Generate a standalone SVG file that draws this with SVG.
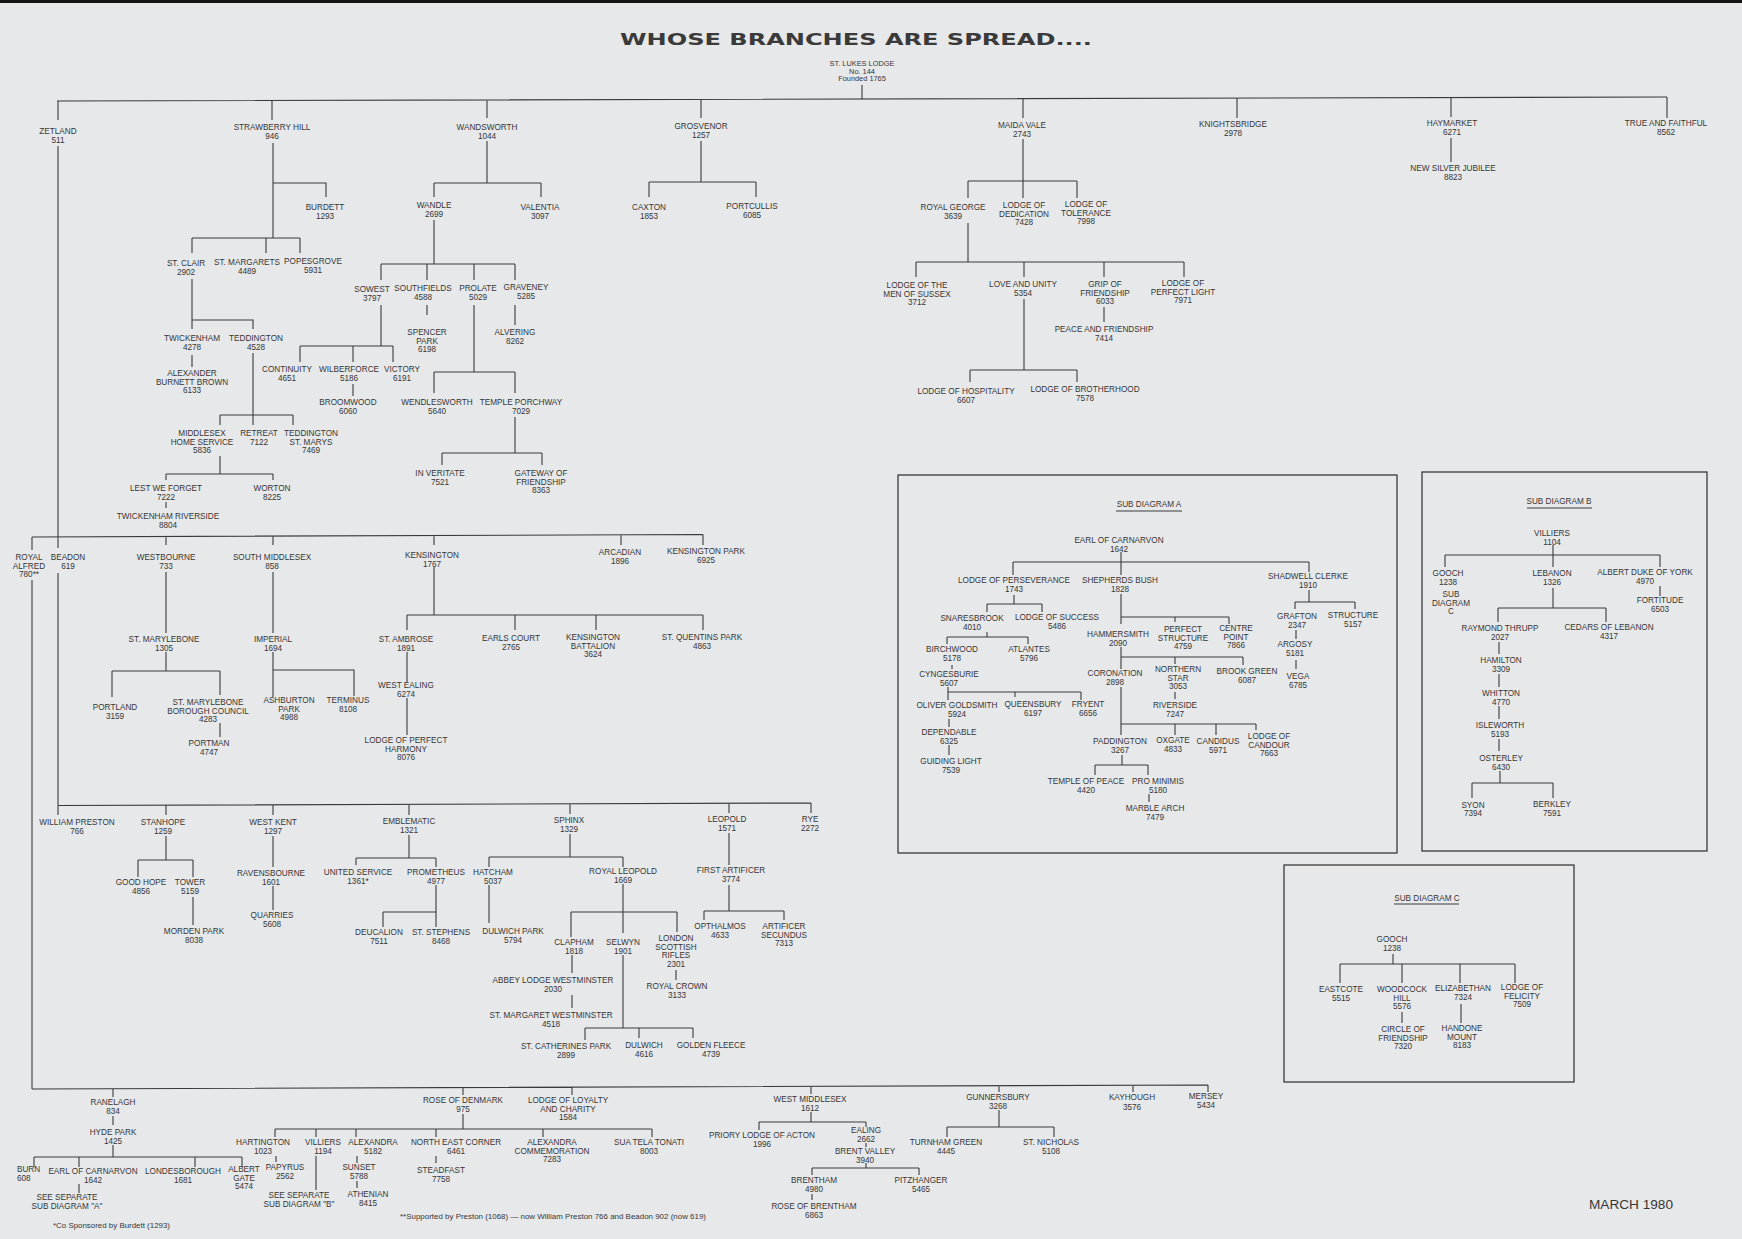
<svg xmlns="http://www.w3.org/2000/svg" width="1742" height="1239" viewBox="0 0 1742 1239">
<style>
.t{font-family:"Liberation Sans",Arial,sans-serif;font-size:8.2px;fill:#363636;text-anchor:middle}
.s{font-size:7.4px}
.c{fill:none;stroke:#3a3a3a;stroke-width:1.1}
.b{fill:none;stroke:#3a3a3a;stroke-width:1.3}
</style>
<rect x="0" y="0" width="1742" height="1239" fill="#e7e8ea"/>
<rect x="0" y="0" width="1742" height="3" fill="#151515"/>
<g id="title"><text x="620" y="45" textLength="472" lengthAdjust="spacingAndGlyphs" style="font-family:'DejaVu Sans',Verdana,sans-serif;font-weight:bold;font-size:16.5px;fill:#3a3a3a;text-anchor:start">WHOSE BRANCHES ARE SPREAD....</text></g>
<g id="connectors" class="c">
<path d="M57,101 L1667,97 M862,85 V99.5 M58,101 V120 M58,146 V548 M58,573 V805.5"/>
<path d="M272,101 V120 M273,143 V238 M273,183 H326 V197 M192,238 H300 M192,238 V253 M266,238 V253 M300,238 V253 M192,279 V329 M192,320 H253 V329 M192,355 V367 M253,353 V425 M220,415 H293 M220,415 V425 M293,415 V425 M220,456 V474 M166,474 H273 M166,474 V480 M273,474 V480 M166,502 V508"/>
<path d="M487,100.5 V118 M487,141 V183 M434,183 H541 M434,183 V197 M541,183 V197 M434,220 V264 M381,264 H515 M381,264 V280 M427,264 V280 M474,264 V280 M515,264 V280 M381,305 V346 M300,346 H393 M300,346 V362 M353,346 V362 M393,346 V362 M353,384 V396 M427,305 V315 M515,305 V325 M474,305 V372 M434,372 H515 M434,372 V393 M515,372 V393 M515,417 V453 M442,453 H542 M442,453 V465 M542,453 V465"/>
<path d="M701,100 V118 M701,141 V182 M649,182 H756 M649,182 V197 M756,182 V197"/>
<path d="M1023,98.5 V118 M1023,139 V181 M968,181 H1077 M968,181 V198 M1023,181 V198 M1077,181 V198 M968,223 V262 M916,262 H1184 M916,262 V277 M1024,262 V277 M1104,262 V277 M1184,262 V277 M1104,307 V322 M1024,299 V370 M970,370 H1077 M970,370 V382 M1077,370 V382"/>
<path d="M1237,98 V118 M1451,97.5 V117 M1451,138 V162 M1667,97 V118"/>
<path d="M32,537 L703,534.5 M32,537 V550 M32,580 V1089 M166,536.5 V545 M273,536 V545 M434,536 V545 M621,535 V545 M703,534.5 V545 M166,572 V633 M166,652 V671 M112,671 H220 M112,671 V697 M220,671 V695 M220,723 V737 M273,572 V633 M273,652 V697 M273,670 H354 V696 M434,567 V615 M407,615 H703 M407,615 V630 M515,615 V630 M596,615 V630 M703,615 V630 M407,652 V682 M407,698 V735"/>
<path d="M58,805.5 L811,803 M58,805.5 V815 M166,805 V815 M273,805 V815 M409,804.5 V815 M570,804 V814 M729,803.5 V813 M811,803 V813 M166,836 V860 M138,860 H193 M138,860 V877 M193,860 V877 M193,897 V925 M273,836 V867 M273,886 V910 M409,835 V858 M356,858 H436 M356,858 V865 M436,858 V867 M436,885 V927 M383,912 H436 M383,912 V927 M570,834 V857 M489,857 H623 M489,857 V867 M623,857 V867 M489,885 V923 M623,884 V933 M623,955 V1028 M571,912 H677 M571,912 V937 M677,912 V932 M572,955 V973 M572,995 V1008 M585,1028 H693 M585,1028 V1040 M639,1028 V1038 M693,1028 V1038 M676,970 V980 M729,833 V865 M729,885 V911 M704,911 H784 M704,911 V920 M784,911 V920"/>
<path d="M32,1089 L1208,1085 M113,1089 V1097 M463,1087.5 V1095 M572,1087 V1095 M811,1086.5 V1094 M999,1086 V1092 M1133,1085.5 V1092 M1208,1085 V1092 M113,1116 V1125 M113,1145 V1157 M34,1157 H242 M34,1157 V1167 M79,1157 V1167 M195,1157 V1167 M242,1157 V1167 M79,1184 V1193 M463,1114 V1129 M275,1129 H652 M275,1129 V1137 M316,1129 V1137 M356,1129 V1137 M436,1129 V1137 M543,1129 V1137 M652,1129 V1137 M276,1156 V1162 M316,1156 V1190 M357,1156 V1163 M357,1181 V1188 M436,1156 V1163 M811,1112 V1122 M759,1122 H866 M759,1122 V1130 M866,1122 V1127 M866,1143 V1147 M866,1163 V1168 M812,1168 H919 M812,1168 V1175 M919,1168 V1175 M812,1194 V1200 M999,1110 V1127 M947,1127 H1054 M947,1127 V1137 M1054,1127 V1137"/>
<path d="M1121,552 V575 M1013,562 H1309 M1013,562 V575 M1309,562 V572 M1014,595 V604 M987,604 H1042 M987,604 V612 M1042,604 V612 M987,632 V637 M947,637 H1028 M947,637 V644 M1028,637 V644 M952,665 V669 M948,687 V700 M948,692 H1081 M1015,692 V697 M1081,692 V700 M949,719 V727 M949,745 V755 M1121,594 V624 M1121,617 H1229 M1175,617 V622 M1229,617 V624 M1121,647 V669 M1121,657 H1243 M1175,657 V664 M1243,657 V665 M1175,692 V699 M1121,687 V735 M1121,724 H1256 M1175,724 V735 M1216,724 V735 M1256,724 V730 M1122,755 V765 M1095,765 H1148 M1095,765 V775 M1148,765 V775 M1149,794 V802 M1309,590 V602 M1295,602 H1355 M1295,602 V609 M1355,602 V609 M1296,630 V639 M1296,660 V669"/>
<path d="M1553,545 V567 M1445,555 H1660 M1445,555 V567 M1660,555 V567 M1660,586 V596 M1553,588 V608 M1498,608 H1606 M1498,608 V622 M1606,608 V622 M1499,642 V654 M1499,674 V687 M1499,706 V719 M1499,739 V751 M1500,771 V783 M1472,783 H1553 M1472,783 V798 M1553,783 V798"/>
<path d="M1393,954 V964 M1340,964 H1515 M1340,964 V983 M1402,964 V983 M1460,964 V983 M1515,964 V983 M1402,1012 V1023 M1461,1004 V1023"/>
<path d="M1116,511 H1182 M1527,508 H1592 M1394,904 H1459"/>
</g>
<g id="subA-box"><rect class="b" x="898" y="475" width="499" height="378"/></g>
<g id="subB-box"><rect class="b" x="1422" y="472" width="285" height="379"/></g>
<g id="subC-box"><rect class="b" x="1284" y="865" width="290" height="217"/></g>
<g id="stlukes"><text class="t s"><tspan x="862" y="66">ST. LUKES LODGE</tspan><tspan x="862" y="73.5">No. 144</tspan><tspan x="862" y="81">Founded 1765</tspan></text></g>
<g id="zetland"><text class="t"><tspan x="58" y="134">ZETLAND</tspan><tspan x="58" y="142.5">511</tspan></text></g>
<g id="strawberryhill"><text class="t"><tspan x="272" y="130">STRAWBERRY HILL</tspan><tspan x="272" y="138.5">946</tspan></text></g>
<g id="burdett"><text class="t"><tspan x="325" y="210">BURDETT</tspan><tspan x="325" y="218.5">1293</tspan></text></g>
<g id="stclair"><text class="t"><tspan x="186" y="266">ST. CLAIR</tspan><tspan x="186" y="274.5">2902</tspan></text></g>
<g id="stmargarets"><text class="t"><tspan x="247" y="265">ST. MARGARETS</tspan><tspan x="247" y="273.5">4489</tspan></text></g>
<g id="popesgrove"><text class="t"><tspan x="313" y="264">POPESGROVE</tspan><tspan x="313" y="272.5">5931</tspan></text></g>
<g id="twickenham"><text class="t"><tspan x="192" y="341">TWICKENHAM</tspan><tspan x="192" y="349.5">4278</tspan></text></g>
<g id="teddington"><text class="t"><tspan x="256" y="341">TEDDINGTON</tspan><tspan x="256" y="349.5">4528</tspan></text></g>
<g id="alexanderbb"><text class="t"><tspan x="192" y="376">ALEXANDER</tspan><tspan x="192" y="384.5">BURNETT BROWN</tspan><tspan x="192" y="393">6133</tspan></text></g>
<g id="middlesexhs"><text class="t"><tspan x="202" y="436">MIDDLESEX</tspan><tspan x="202" y="444.5">HOME SERVICE</tspan><tspan x="202" y="453">5836</tspan></text></g>
<g id="retreat"><text class="t"><tspan x="259" y="436">RETREAT</tspan><tspan x="259" y="444.5">7122</tspan></text></g>
<g id="teddstmarys"><text class="t"><tspan x="311" y="436">TEDDINGTON</tspan><tspan x="311" y="444.5">ST. MARYS</tspan><tspan x="311" y="453">7469</tspan></text></g>
<g id="lestweforget"><text class="t"><tspan x="166" y="491">LEST WE FORGET</tspan><tspan x="166" y="499.5">7222</tspan></text></g>
<g id="worton"><text class="t"><tspan x="272" y="491">WORTON</tspan><tspan x="272" y="499.5">8225</tspan></text></g>
<g id="twickriverside"><text class="t"><tspan x="168" y="519">TWICKENHAM RIVERSIDE</tspan><tspan x="168" y="527.5">8804</tspan></text></g>
<g id="wandsworth"><text class="t"><tspan x="487" y="130">WANDSWORTH</tspan><tspan x="487" y="138.5">1044</tspan></text></g>
<g id="wandle"><text class="t"><tspan x="434" y="208">WANDLE</tspan><tspan x="434" y="216.5">2699</tspan></text></g>
<g id="valentia"><text class="t"><tspan x="540" y="210">VALENTIA</tspan><tspan x="540" y="218.5">3097</tspan></text></g>
<g id="sowest"><text class="t"><tspan x="372" y="292">SOWEST</tspan><tspan x="372" y="300.5">3797</tspan></text></g>
<g id="southfields"><text class="t"><tspan x="423" y="291">SOUTHFIELDS</tspan><tspan x="423" y="299.5">4588</tspan></text></g>
<g id="prolate"><text class="t"><tspan x="478" y="291">PROLATE</tspan><tspan x="478" y="299.5">5029</tspan></text></g>
<g id="graveney"><text class="t"><tspan x="526" y="290">GRAVENEY</tspan><tspan x="526" y="298.5">5285</tspan></text></g>
<g id="continuity"><text class="t"><tspan x="287" y="372">CONTINUITY</tspan><tspan x="287" y="380.5">4651</tspan></text></g>
<g id="wilberforce"><text class="t"><tspan x="349" y="372">WILBERFORCE</tspan><tspan x="349" y="380.5">5186</tspan></text></g>
<g id="victory"><text class="t"><tspan x="402" y="372">VICTORY</tspan><tspan x="402" y="380.5">6191</tspan></text></g>
<g id="broomwood"><text class="t"><tspan x="348" y="405">BROOMWOOD</tspan><tspan x="348" y="413.5">6060</tspan></text></g>
<g id="spencerpark"><text class="t"><tspan x="427" y="335">SPENCER</tspan><tspan x="427" y="343.5">PARK</tspan><tspan x="427" y="352">6198</tspan></text></g>
<g id="alvering"><text class="t"><tspan x="515" y="335">ALVERING</tspan><tspan x="515" y="343.5">8262</tspan></text></g>
<g id="wendlesworth"><text class="t"><tspan x="437" y="405">WENDLESWORTH</tspan><tspan x="437" y="413.5">5640</tspan></text></g>
<g id="templeporchway"><text class="t"><tspan x="521" y="405">TEMPLE PORCHWAY</tspan><tspan x="521" y="413.5">7029</tspan></text></g>
<g id="inveritate"><text class="t"><tspan x="440" y="476">IN VERITATE</tspan><tspan x="440" y="484.5">7521</tspan></text></g>
<g id="gatewayfriendship"><text class="t"><tspan x="541" y="476">GATEWAY OF</tspan><tspan x="541" y="484.5">FRIENDSHIP</tspan><tspan x="541" y="493">8363</tspan></text></g>
<g id="grosvenor"><text class="t"><tspan x="701" y="129">GROSVENOR</tspan><tspan x="701" y="137.5">1257</tspan></text></g>
<g id="caxton"><text class="t"><tspan x="649" y="210">CAXTON</tspan><tspan x="649" y="218.5">1853</tspan></text></g>
<g id="portcullis"><text class="t"><tspan x="752" y="209">PORTCULLIS</tspan><tspan x="752" y="217.5">6085</tspan></text></g>
<g id="maidavale"><text class="t"><tspan x="1022" y="128">MAIDA VALE</tspan><tspan x="1022" y="136.5">2743</tspan></text></g>
<g id="royalgeorge"><text class="t"><tspan x="953" y="210">ROYAL GEORGE</tspan><tspan x="953" y="218.5">3639</tspan></text></g>
<g id="dedication"><text class="t"><tspan x="1024" y="208">LODGE OF</tspan><tspan x="1024" y="216.5">DEDICATION</tspan><tspan x="1024" y="225">7428</tspan></text></g>
<g id="tolerance"><text class="t"><tspan x="1086" y="207">LODGE OF</tspan><tspan x="1086" y="215.5">TOLERANCE</tspan><tspan x="1086" y="224">7998</tspan></text></g>
<g id="mensussex"><text class="t"><tspan x="917" y="288">LODGE OF THE</tspan><tspan x="917" y="296.5">MEN OF SUSSEX</tspan><tspan x="917" y="305">3712</tspan></text></g>
<g id="loveunity"><text class="t"><tspan x="1023" y="287">LOVE AND UNITY</tspan><tspan x="1023" y="295.5">5354</tspan></text></g>
<g id="gripfriendship"><text class="t"><tspan x="1105" y="287">GRIP OF</tspan><tspan x="1105" y="295.5">FRIENDSHIP</tspan><tspan x="1105" y="304">6033</tspan></text></g>
<g id="perfectlight"><text class="t"><tspan x="1183" y="286">LODGE OF</tspan><tspan x="1183" y="294.5">PERFECT LIGHT</tspan><tspan x="1183" y="303">7971</tspan></text></g>
<g id="peacefriendship"><text class="t"><tspan x="1104" y="332">PEACE AND FRIENDSHIP</tspan><tspan x="1104" y="340.5">7414</tspan></text></g>
<g id="hospitality"><text class="t"><tspan x="966" y="394">LODGE OF HOSPITALITY</tspan><tspan x="966" y="402.5">6607</tspan></text></g>
<g id="brotherhood"><text class="t"><tspan x="1085" y="392">LODGE OF BROTHERHOOD</tspan><tspan x="1085" y="400.5">7578</tspan></text></g>
<g id="knightsbridge"><text class="t"><tspan x="1233" y="127">KNIGHTSBRIDGE</tspan><tspan x="1233" y="135.5">2978</tspan></text></g>
<g id="haymarket"><text class="t"><tspan x="1452" y="126">HAYMARKET</tspan><tspan x="1452" y="134.5">6271</tspan></text></g>
<g id="newsilverjubilee"><text class="t"><tspan x="1453" y="171">NEW SILVER JUBILEE</tspan><tspan x="1453" y="179.5">8823</tspan></text></g>
<g id="trueandfaithful"><text class="t"><tspan x="1666" y="126">TRUE AND FAITHFUL</tspan><tspan x="1666" y="134.5">8562</tspan></text></g>
<g id="royalalfred"><text class="t"><tspan x="29" y="560">ROYAL</tspan><tspan x="29" y="568.5">ALFRED</tspan><tspan x="29" y="577">780**</tspan></text></g>
<g id="beadon"><text class="t"><tspan x="68" y="560">BEADON</tspan><tspan x="68" y="568.5">619</tspan></text></g>
<g id="westbourne"><text class="t"><tspan x="166" y="560">WESTBOURNE</tspan><tspan x="166" y="568.5">733</tspan></text></g>
<g id="southmiddlesex"><text class="t"><tspan x="272" y="560">SOUTH MIDDLESEX</tspan><tspan x="272" y="568.5">858</tspan></text></g>
<g id="kensington"><text class="t"><tspan x="432" y="558">KENSINGTON</tspan><tspan x="432" y="566.5">1767</tspan></text></g>
<g id="arcadian"><text class="t"><tspan x="620" y="555">ARCADIAN</tspan><tspan x="620" y="563.5">1896</tspan></text></g>
<g id="kensingtonpark"><text class="t"><tspan x="706" y="554">KENSINGTON PARK</tspan><tspan x="706" y="562.5">6925</tspan></text></g>
<g id="stmarylebone"><text class="t"><tspan x="164" y="642">ST. MARYLEBONE</tspan><tspan x="164" y="650.5">1305</tspan></text></g>
<g id="portland"><text class="t"><tspan x="115" y="710">PORTLAND</tspan><tspan x="115" y="718.5">3159</tspan></text></g>
<g id="stmbc"><text class="t"><tspan x="208" y="705">ST. MARYLEBONE</tspan><tspan x="208" y="713.5">BOROUGH COUNCIL</tspan><tspan x="208" y="722">4283</tspan></text></g>
<g id="portman"><text class="t"><tspan x="209" y="746">PORTMAN</tspan><tspan x="209" y="754.5">4747</tspan></text></g>
<g id="imperial"><text class="t"><tspan x="273" y="642">IMPERIAL</tspan><tspan x="273" y="650.5">1694</tspan></text></g>
<g id="ashburtonpark"><text class="t"><tspan x="289" y="703">ASHBURTON</tspan><tspan x="289" y="711.5">PARK</tspan><tspan x="289" y="720">4988</tspan></text></g>
<g id="terminus"><text class="t"><tspan x="348" y="703">TERMINUS</tspan><tspan x="348" y="711.5">8108</tspan></text></g>
<g id="stambrose"><text class="t"><tspan x="406" y="642">ST. AMBROSE</tspan><tspan x="406" y="650.5">1891</tspan></text></g>
<g id="earlscourt"><text class="t"><tspan x="511" y="641">EARLS COURT</tspan><tspan x="511" y="649.5">2765</tspan></text></g>
<g id="kensbattalion"><text class="t"><tspan x="593" y="640">KENSINGTON</tspan><tspan x="593" y="648.5">BATTALION</tspan><tspan x="593" y="657">3624</tspan></text></g>
<g id="stquentinspark"><text class="t"><tspan x="702" y="640">ST. QUENTINS PARK</tspan><tspan x="702" y="648.5">4863</tspan></text></g>
<g id="westealing"><text class="t"><tspan x="406" y="688">WEST EALING</tspan><tspan x="406" y="696.5">6274</tspan></text></g>
<g id="perfectharmony"><text class="t"><tspan x="406" y="743">LODGE OF PERFECT</tspan><tspan x="406" y="751.5">HARMONY</tspan><tspan x="406" y="760">8076</tspan></text></g>
<g id="williampreston"><text class="t"><tspan x="77" y="825">WILLIAM PRESTON</tspan><tspan x="77" y="833.5">766</tspan></text></g>
<g id="stanhope"><text class="t"><tspan x="163" y="825">STANHOPE</tspan><tspan x="163" y="833.5">1259</tspan></text></g>
<g id="westkent"><text class="t"><tspan x="273" y="825">WEST KENT</tspan><tspan x="273" y="833.5">1297</tspan></text></g>
<g id="emblematic"><text class="t"><tspan x="409" y="824">EMBLEMATIC</tspan><tspan x="409" y="832.5">1321</tspan></text></g>
<g id="sphinx"><text class="t"><tspan x="569" y="823">SPHINX</tspan><tspan x="569" y="831.5">1329</tspan></text></g>
<g id="leopold"><text class="t"><tspan x="727" y="822">LEOPOLD</tspan><tspan x="727" y="830.5">1571</tspan></text></g>
<g id="rye"><text class="t"><tspan x="810" y="822">RYE</tspan><tspan x="810" y="830.5">2272</tspan></text></g>
<g id="goodhope"><text class="t"><tspan x="141" y="885">GOOD HOPE</tspan><tspan x="141" y="893.5">4856</tspan></text></g>
<g id="tower"><text class="t"><tspan x="190" y="885">TOWER</tspan><tspan x="190" y="893.5">5159</tspan></text></g>
<g id="mordenpark"><text class="t"><tspan x="194" y="934">MORDEN PARK</tspan><tspan x="194" y="942.5">8038</tspan></text></g>
<g id="ravensbourne"><text class="t"><tspan x="271" y="876">RAVENSBOURNE</tspan><tspan x="271" y="884.5">1601</tspan></text></g>
<g id="quarries"><text class="t"><tspan x="272" y="918">QUARRIES</tspan><tspan x="272" y="926.5">5608</tspan></text></g>
<g id="unitedservice"><text class="t"><tspan x="358" y="875">UNITED SERVICE</tspan><tspan x="358" y="883.5">1361*</tspan></text></g>
<g id="prometheus"><text class="t"><tspan x="436" y="875">PROMETHEUS</tspan><tspan x="436" y="883.5">4977</tspan></text></g>
<g id="deucalion"><text class="t"><tspan x="379" y="935">DEUCALION</tspan><tspan x="379" y="943.5">7511</tspan></text></g>
<g id="ststephens"><text class="t"><tspan x="441" y="935">ST. STEPHENS</tspan><tspan x="441" y="943.5">8468</tspan></text></g>
<g id="hatcham"><text class="t"><tspan x="493" y="875">HATCHAM</tspan><tspan x="493" y="883.5">5037</tspan></text></g>
<g id="dulwichpark"><text class="t"><tspan x="513" y="934">DULWICH PARK</tspan><tspan x="513" y="942.5">5794</tspan></text></g>
<g id="royalleopold"><text class="t"><tspan x="623" y="874">ROYAL LEOPOLD</tspan><tspan x="623" y="882.5">1669</tspan></text></g>
<g id="clapham"><text class="t"><tspan x="574" y="945">CLAPHAM</tspan><tspan x="574" y="953.5">1818</tspan></text></g>
<g id="selwyn"><text class="t"><tspan x="623" y="945">SELWYN</tspan><tspan x="623" y="953.5">1901</tspan></text></g>
<g id="londonscottish"><text class="t"><tspan x="676" y="941">LONDON</tspan><tspan x="676" y="949.5">SCOTTISH</tspan><tspan x="676" y="958">RIFLES</tspan><tspan x="676" y="966.5">2301</tspan></text></g>
<g id="abbeylodge"><text class="t"><tspan x="553" y="983">ABBEY LODGE WESTMINSTER</tspan><tspan x="553" y="991.5">2030</tspan></text></g>
<g id="stmargaretwest"><text class="t"><tspan x="551" y="1018">ST. MARGARET WESTMINSTER</tspan><tspan x="551" y="1026.5">4518</tspan></text></g>
<g id="royalcrown"><text class="t"><tspan x="677" y="989">ROYAL CROWN</tspan><tspan x="677" y="997.5">3133</tspan></text></g>
<g id="stcatherines"><text class="t"><tspan x="566" y="1049">ST. CATHERINES PARK</tspan><tspan x="566" y="1057.5">2899</tspan></text></g>
<g id="dulwich"><text class="t"><tspan x="644" y="1048">DULWICH</tspan><tspan x="644" y="1056.5">4616</tspan></text></g>
<g id="goldenfleece"><text class="t"><tspan x="711" y="1048">GOLDEN FLEECE</tspan><tspan x="711" y="1056.5">4739</tspan></text></g>
<g id="firstartificer"><text class="t"><tspan x="731" y="873">FIRST ARTIFICER</tspan><tspan x="731" y="881.5">3774</tspan></text></g>
<g id="opthalmos"><text class="t"><tspan x="720" y="929">OPTHALMOS</tspan><tspan x="720" y="937.5">4633</tspan></text></g>
<g id="artificersecundus"><text class="t"><tspan x="784" y="929">ARTIFICER</tspan><tspan x="784" y="937.5">SECUNDUS</tspan><tspan x="784" y="946">7313</tspan></text></g>
<g id="ranelagh"><text class="t"><tspan x="113" y="1105">RANELAGH</tspan><tspan x="113" y="1113.5">834</tspan></text></g>
<g id="hydepark"><text class="t"><tspan x="113" y="1135">HYDE PARK</tspan><tspan x="113" y="1143.5">1425</tspan></text></g>
<g id="burn"><text class="t" style="text-anchor:start"><tspan x="17" y="1172">BURN</tspan><tspan x="17" y="1180.5">608</tspan></text></g>
<g id="earlcarnarvon"><text class="t"><tspan x="93" y="1174">EARL OF CARNARVON</tspan><tspan x="93" y="1182.5">1642</tspan></text></g>
<g id="seesubA"><text class="t"><tspan x="67" y="1200">SEE SEPARATE</tspan><tspan x="67" y="1208.5">SUB DIAGRAM "A"</tspan></text></g>
<g id="londesborough"><text class="t"><tspan x="183" y="1174">LONDESBOROUGH</tspan><tspan x="183" y="1182.5">1681</tspan></text></g>
<g id="albertgate"><text class="t"><tspan x="244" y="1172">ALBERT</tspan><tspan x="244" y="1180.5">GATE</tspan><tspan x="244" y="1189">5474</tspan></text></g>
<g id="roseofdenmark"><text class="t"><tspan x="463" y="1103">ROSE OF DENMARK</tspan><tspan x="463" y="1111.5">975</tspan></text></g>
<g id="hartington"><text class="t"><tspan x="263" y="1145">HARTINGTON</tspan><tspan x="263" y="1153.5">1023</tspan></text></g>
<g id="papyrus"><text class="t"><tspan x="285" y="1170">PAPYRUS</tspan><tspan x="285" y="1178.5">2562</tspan></text></g>
<g id="villiers"><text class="t"><tspan x="323" y="1145">VILLIERS</tspan><tspan x="323" y="1153.5">1194</tspan></text></g>
<g id="seesubB"><text class="t"><tspan x="299" y="1198">SEE SEPARATE</tspan><tspan x="299" y="1206.5">SUB DIAGRAM "B"</tspan></text></g>
<g id="alexandra"><text class="t"><tspan x="373" y="1145">ALEXANDRA</tspan><tspan x="373" y="1153.5">5182</tspan></text></g>
<g id="sunset"><text class="t"><tspan x="359" y="1170">SUNSET</tspan><tspan x="359" y="1178.5">5788</tspan></text></g>
<g id="athenian"><text class="t"><tspan x="368" y="1197">ATHENIAN</tspan><tspan x="368" y="1205.5">8415</tspan></text></g>
<g id="northeastcorner"><text class="t"><tspan x="456" y="1145">NORTH EAST CORNER</tspan><tspan x="456" y="1153.5">6461</tspan></text></g>
<g id="steadfast"><text class="t"><tspan x="441" y="1173">STEADFAST</tspan><tspan x="441" y="1181.5">7758</tspan></text></g>
<g id="alexcommem"><text class="t"><tspan x="552" y="1145">ALEXANDRA</tspan><tspan x="552" y="1153.5">COMMEMORATION</tspan><tspan x="552" y="1162">7283</tspan></text></g>
<g id="suatelatonati"><text class="t"><tspan x="649" y="1145">SUA TELA TONATI</tspan><tspan x="649" y="1153.5">8003</tspan></text></g>
<g id="loyaltycharity"><text class="t"><tspan x="568" y="1103">LODGE OF LOYALTY</tspan><tspan x="568" y="1111.5">AND CHARITY</tspan><tspan x="568" y="1120">1584</tspan></text></g>
<g id="westmiddlesex"><text class="t"><tspan x="810" y="1102">WEST MIDDLESEX</tspan><tspan x="810" y="1110.5">1612</tspan></text></g>
<g id="prioryacton"><text class="t"><tspan x="762" y="1138">PRIORY LODGE OF ACTON</tspan><tspan x="762" y="1146.5">1996</tspan></text></g>
<g id="ealing"><text class="t"><tspan x="866" y="1133">EALING</tspan><tspan x="866" y="1141.5">2662</tspan></text></g>
<g id="brentvalley"><text class="t"><tspan x="865" y="1154">BRENT VALLEY</tspan><tspan x="865" y="1162.5">3940</tspan></text></g>
<g id="brentham"><text class="t"><tspan x="814" y="1183">BRENTHAM</tspan><tspan x="814" y="1191.5">4980</tspan></text></g>
<g id="roseofbrentham"><text class="t"><tspan x="814" y="1209">ROSE OF BRENTHAM</tspan><tspan x="814" y="1217.5">6863</tspan></text></g>
<g id="pitzhanger"><text class="t"><tspan x="921" y="1183">PITZHANGER</tspan><tspan x="921" y="1191.5">5465</tspan></text></g>
<g id="gunnersbury"><text class="t"><tspan x="998" y="1100">GUNNERSBURY</tspan><tspan x="998" y="1108.5">3268</tspan></text></g>
<g id="turnhamgreen"><text class="t"><tspan x="946" y="1145">TURNHAM GREEN</tspan><tspan x="946" y="1153.5">4445</tspan></text></g>
<g id="stnicholas"><text class="t"><tspan x="1051" y="1145">ST. NICHOLAS</tspan><tspan x="1051" y="1153.5">5108</tspan></text></g>
<g id="kayhough"><text class="t"><tspan x="1132" y="1100">KAYHOUGH</tspan><tspan x="1132" y="1110">3576</tspan></text></g>
<g id="mersey"><text class="t"><tspan x="1206" y="1099">MERSEY</tspan><tspan x="1206" y="1107.5">5434</tspan></text></g>
<g id="subA-title"><text class="t" x="1149" y="507">SUB DIAGRAM A</text></g>
<g id="a-earlcarnarvon"><text class="t"><tspan x="1119" y="543">EARL OF CARNARVON</tspan><tspan x="1119" y="551.5">1642</tspan></text></g>
<g id="a-perseverance"><text class="t"><tspan x="1014" y="583">LODGE OF PERSEVERANCE</tspan><tspan x="1014" y="591.5">1743</tspan></text></g>
<g id="a-shepherdsbush"><text class="t"><tspan x="1120" y="583">SHEPHERDS BUSH</tspan><tspan x="1120" y="591.5">1828</tspan></text></g>
<g id="a-shadwellclerke"><text class="t"><tspan x="1308" y="579">SHADWELL CLERKE</tspan><tspan x="1308" y="587.5">1910</tspan></text></g>
<g id="a-snaresbrook"><text class="t"><tspan x="972" y="621">SNARESBROOK</tspan><tspan x="972" y="629.5">4010</tspan></text></g>
<g id="a-lodgesuccess"><text class="t"><tspan x="1057" y="620">LODGE OF SUCCESS</tspan><tspan x="1057" y="628.5">5486</tspan></text></g>
<g id="a-birchwood"><text class="t"><tspan x="952" y="652">BIRCHWOOD</tspan><tspan x="952" y="660.5">5178</tspan></text></g>
<g id="a-atlantes"><text class="t"><tspan x="1029" y="652">ATLANTES</tspan><tspan x="1029" y="660.5">5796</tspan></text></g>
<g id="a-cyngesburie"><text class="t"><tspan x="949" y="677">CYNGESBURIE</tspan><tspan x="949" y="685.5">5607</tspan></text></g>
<g id="a-olivergoldsmith"><text class="t"><tspan x="957" y="708">OLIVER GOLDSMITH</tspan><tspan x="957" y="716.5">5924</tspan></text></g>
<g id="a-queensbury"><text class="t"><tspan x="1033" y="707">QUEENSBURY</tspan><tspan x="1033" y="715.5">6197</tspan></text></g>
<g id="a-fryent"><text class="t"><tspan x="1088" y="707">FRYENT</tspan><tspan x="1088" y="715.5">6656</tspan></text></g>
<g id="a-dependable"><text class="t"><tspan x="949" y="735">DEPENDABLE</tspan><tspan x="949" y="743.5">6325</tspan></text></g>
<g id="a-guidinglight"><text class="t"><tspan x="951" y="764">GUIDING LIGHT</tspan><tspan x="951" y="772.5">7539</tspan></text></g>
<g id="a-hammersmith"><text class="t"><tspan x="1118" y="637">HAMMERSMITH</tspan><tspan x="1118" y="645.5">2090</tspan></text></g>
<g id="a-perfectstructure"><text class="t"><tspan x="1183" y="632">PERFECT</tspan><tspan x="1183" y="640.5">STRUCTURE</tspan><tspan x="1183" y="649">4759</tspan></text></g>
<g id="a-centrepoint"><text class="t"><tspan x="1236" y="631">CENTRE</tspan><tspan x="1236" y="639.5">POINT</tspan><tspan x="1236" y="648">7866</tspan></text></g>
<g id="a-coronation"><text class="t"><tspan x="1115" y="676">CORONATION</tspan><tspan x="1115" y="684.5">2898</tspan></text></g>
<g id="a-northernstar"><text class="t"><tspan x="1178" y="672">NORTHERN</tspan><tspan x="1178" y="680.5">STAR</tspan><tspan x="1178" y="689">3053</tspan></text></g>
<g id="a-brookgreen"><text class="t"><tspan x="1247" y="674">BROOK GREEN</tspan><tspan x="1247" y="682.5">6087</tspan></text></g>
<g id="a-riverside"><text class="t"><tspan x="1175" y="708">RIVERSIDE</tspan><tspan x="1175" y="716.5">7247</tspan></text></g>
<g id="a-paddington"><text class="t"><tspan x="1120" y="744">PADDINGTON</tspan><tspan x="1120" y="752.5">3267</tspan></text></g>
<g id="a-oxgate"><text class="t"><tspan x="1173" y="743">OXGATE</tspan><tspan x="1173" y="751.5">4833</tspan></text></g>
<g id="a-candidus"><text class="t"><tspan x="1218" y="744">CANDIDUS</tspan><tspan x="1218" y="752.5">5971</tspan></text></g>
<g id="a-candour"><text class="t"><tspan x="1269" y="739">LODGE OF</tspan><tspan x="1269" y="747.5">CANDOUR</tspan><tspan x="1269" y="756">7663</tspan></text></g>
<g id="a-templeofpeace"><text class="t"><tspan x="1086" y="784">TEMPLE OF PEACE</tspan><tspan x="1086" y="792.5">4420</tspan></text></g>
<g id="a-prominimis"><text class="t"><tspan x="1158" y="784">PRO MINIMIS</tspan><tspan x="1158" y="792.5">5180</tspan></text></g>
<g id="a-marblearch"><text class="t"><tspan x="1155" y="811">MARBLE ARCH</tspan><tspan x="1155" y="819.5">7479</tspan></text></g>
<g id="a-grafton"><text class="t"><tspan x="1297" y="619">GRAFTON</tspan><tspan x="1297" y="627.5">2347</tspan></text></g>
<g id="a-structure"><text class="t"><tspan x="1353" y="618">STRUCTURE</tspan><tspan x="1353" y="626.5">5157</tspan></text></g>
<g id="a-argosy"><text class="t"><tspan x="1295" y="647">ARGOSY</tspan><tspan x="1295" y="655.5">5181</tspan></text></g>
<g id="a-vega"><text class="t"><tspan x="1298" y="679">VEGA</tspan><tspan x="1298" y="687.5">6785</tspan></text></g>
<g id="subB-title"><text class="t" x="1559" y="504">SUB DIAGRAM B</text></g>
<g id="b-villiers"><text class="t"><tspan x="1552" y="536">VILLIERS</tspan><tspan x="1552" y="544.5">1104</tspan></text></g>
<g id="b-gooch"><text class="t"><tspan x="1448" y="576">GOOCH</tspan><tspan x="1448" y="584.5">1238</tspan></text></g>
<g id="b-subdiagramc"><text class="t"><tspan x="1451" y="597">SUB</tspan><tspan x="1451" y="605.5">DIAGRAM</tspan><tspan x="1451" y="614">C</tspan></text></g>
<g id="b-lebanon"><text class="t"><tspan x="1552" y="576">LEBANON</tspan><tspan x="1552" y="584.5">1326</tspan></text></g>
<g id="b-albertduke"><text class="t"><tspan x="1645" y="575">ALBERT DUKE OF YORK</tspan><tspan x="1645" y="583.5">4970</tspan></text></g>
<g id="b-fortitude"><text class="t"><tspan x="1660" y="603">FORTITUDE</tspan><tspan x="1660" y="611.5">6503</tspan></text></g>
<g id="b-raymondthrupp"><text class="t"><tspan x="1500" y="631">RAYMOND THRUPP</tspan><tspan x="1500" y="639.5">2027</tspan></text></g>
<g id="b-cedars"><text class="t"><tspan x="1609" y="630">CEDARS OF LEBANON</tspan><tspan x="1609" y="638.5">4317</tspan></text></g>
<g id="b-hamilton"><text class="t"><tspan x="1501" y="663">HAMILTON</tspan><tspan x="1501" y="671.5">3309</tspan></text></g>
<g id="b-whitton"><text class="t"><tspan x="1501" y="696">WHITTON</tspan><tspan x="1501" y="704.5">4770</tspan></text></g>
<g id="b-isleworth"><text class="t"><tspan x="1500" y="728">ISLEWORTH</tspan><tspan x="1500" y="736.5">5193</tspan></text></g>
<g id="b-osterley"><text class="t"><tspan x="1501" y="761">OSTERLEY</tspan><tspan x="1501" y="769.5">6430</tspan></text></g>
<g id="b-syon"><text class="t"><tspan x="1473" y="807.5">SYON</tspan><tspan x="1473" y="816">7394</tspan></text></g>
<g id="b-berkley"><text class="t"><tspan x="1552" y="807">BERKLEY</tspan><tspan x="1552" y="815.5">7591</tspan></text></g>
<g id="subC-title"><text class="t" x="1427" y="901">SUB DIAGRAM C</text></g>
<g id="c-gooch"><text class="t"><tspan x="1392" y="942">GOOCH</tspan><tspan x="1392" y="950.5">1238</tspan></text></g>
<g id="c-eastcote"><text class="t"><tspan x="1341" y="992">EASTCOTE</tspan><tspan x="1341" y="1000.5">5515</tspan></text></g>
<g id="c-woodcock"><text class="t"><tspan x="1402" y="992">WOODCOCK</tspan><tspan x="1402" y="1000.5">HILL</tspan><tspan x="1402" y="1009">5576</tspan></text></g>
<g id="c-elizabethan"><text class="t"><tspan x="1463" y="991">ELIZABETHAN</tspan><tspan x="1463" y="999.5">7324</tspan></text></g>
<g id="c-felicity"><text class="t"><tspan x="1522" y="990">LODGE OF</tspan><tspan x="1522" y="998.5">FELICITY</tspan><tspan x="1522" y="1007">7509</tspan></text></g>
<g id="c-circle"><text class="t"><tspan x="1403" y="1032">CIRCLE OF</tspan><tspan x="1403" y="1040.5">FRIENDSHIP</tspan><tspan x="1403" y="1049">7320</tspan></text></g>
<g id="c-handone"><text class="t"><tspan x="1462" y="1031">HANDONE</tspan><tspan x="1462" y="1039.5">MOUNT</tspan><tspan x="1462" y="1048">8183</tspan></text></g>
<g id="footnotes">
<text class="t s" x="53" y="1228" style="text-anchor:start" textLength="117" lengthAdjust="spacingAndGlyphs">*Co Sponsored by Burdett (1293)</text>
<text class="t s" x="400" y="1219" style="text-anchor:start" textLength="306" lengthAdjust="spacingAndGlyphs">**Supported by Preston (1068) — now William Preston 766 and Beadon 902 (now 619)</text>
<text class="t" x="1631" y="1209" style="font-size:12.5px" textLength="84" lengthAdjust="spacingAndGlyphs">MARCH 1980</text>
</g>
</svg>
